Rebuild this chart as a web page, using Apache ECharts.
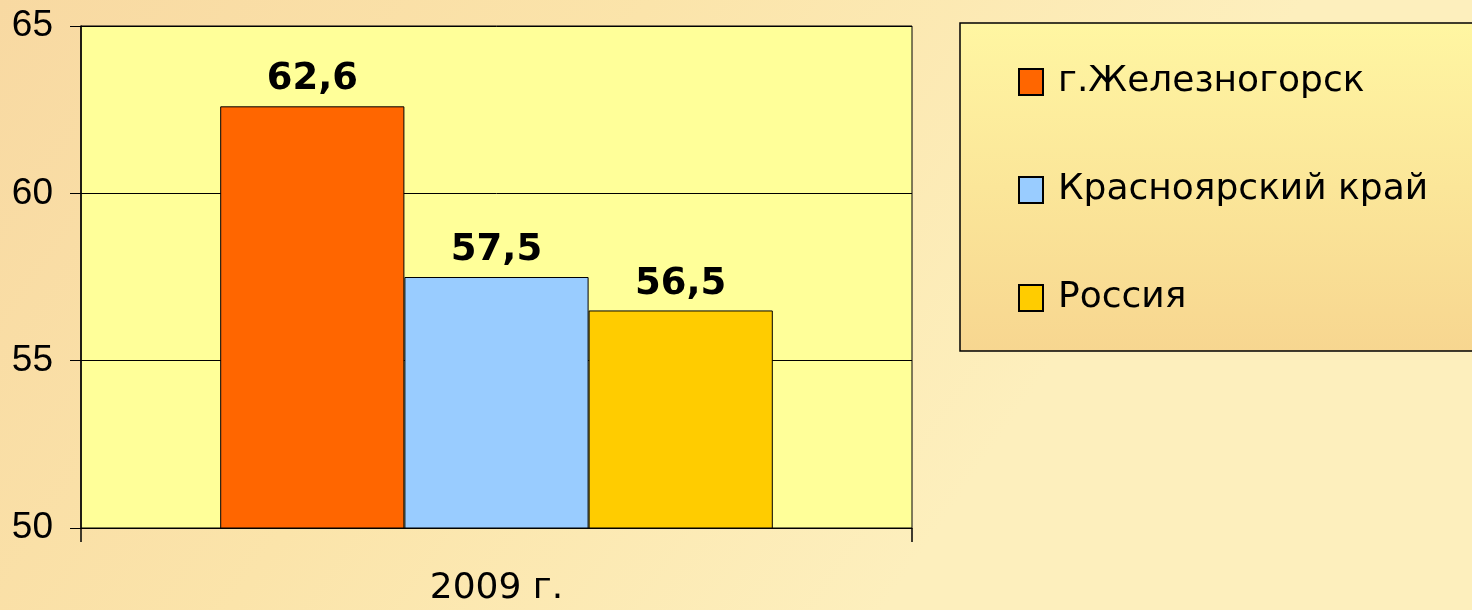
<!DOCTYPE html>
<html>
<head>
<meta charset="utf-8">
<script src="https://cdn.jsdelivr.net/npm/echarts@6/dist/echarts.min.js"></script>
<style>
html,body{margin:0;padding:0;}
#c{width:1472px;height:610px;}
</style>
</head>
<body>
<div id="c"></div>
<script>
var categories = ['2009 г.'];
var seriesNames = ['г.Железногорск', 'Красноярский край', 'Россия'];
var valuesZh = [62.6];
var valuesKr = [57.5];
var valuesRu = [56.5];
var yTicks = [50, 55, 60, 65];

var colors = ['#FF6600', '#99CCFF', '#FFCC00'];
var seriesValues = [valuesZh, valuesKr, valuesRu];

var chart = echarts.init(document.getElementById('c'));
var series = seriesNames.map(function (n, i) {
  return {
    name: n,
    type: 'bar',
    data: seriesValues[i],
    barGap: '0%',
    barCategoryGap: '33.5%',
    itemStyle: { color: colors[i], borderColor: '#000', borderWidth: 1 },
    label: {
      show: true,
      position: 'top',
      distance: 8,
      fontFamily: 'DejaVu Sans',
      fontWeight: 'bold',
      fontSize: 37,
      color: '#000',
      formatter: function (p) { return String(p.value).replace('.', ','); }
    }
  };
});

chart.setOption({
  animation: false,
  backgroundColor: {
    type: 'linear', x: 0, y: 0, x2: 0.6, y2: 1,
    colorStops: [
      { offset: 0, color: '#F8D9A2' },
      { offset: 0.5, color: '#FBE4AA' },
      { offset: 1, color: '#FDEFBD' }
    ]
  },
  graphic: [{
    type: 'rect',
    z: -1,
    shape: { x: 960, y: 23, width: 530, height: 328 },
    style: {
      fill: {
        type: 'linear', x: 0, y: 0, x2: 0, y2: 1,
        colorStops: [
          { offset: 0, color: '#FFF6A2' },
          { offset: 1, color: '#F7D690' }
        ]
      },
      stroke: '#000',
      lineWidth: 1.5
    }
  }],
  grid: {
    left: 81, top: 26, right: 560, bottom: 82,
    show: true, backgroundColor: '#FFFF99', borderColor: '#000', borderWidth: 1
  },
  legend: {
    orient: 'vertical',
    left: 1018,
    top: 64,
    padding: 0,
    itemWidth: 24,
    itemHeight: 26,
    itemGap: 72,
    icon: 'rect',
    data: seriesNames,
    textStyle: {
      fontFamily: 'DejaVu Sans',
      fontSize: 36,
      color: '#000',
      padding: [0, 0, 0, 10]
    }
  },
  xAxis: {
    type: 'category',
    data: categories,
    axisLine: { lineStyle: { color: '#000', width: 1 } },
    axisTick: { show: true, length: 14, lineStyle: { color: '#000', width: 1.5 } },
    axisLabel: { fontFamily: 'DejaVu Sans', fontSize: 36, color: '#000', margin: 43 }
  },
  yAxis: {
    type: 'value',
    min: 50, max: 65, interval: 5,
    axisLine: { show: true, lineStyle: { color: '#000', width: 1.5 } },
    axisTick: { show: true, length: 11, lineStyle: { color: '#000', width: 1 } },
    splitLine: { show: true, lineStyle: { color: '#000', width: 1 } },
    axisLabel: {
      fontFamily: 'Liberation Sans', fontSize: 37, color: '#000', margin: 28,
      formatter: function (v) { return yTicks.indexOf(v) >= 0 ? String(v) : ''; }
    }
  },
  series: series
});
</script>
</body>
</html>
